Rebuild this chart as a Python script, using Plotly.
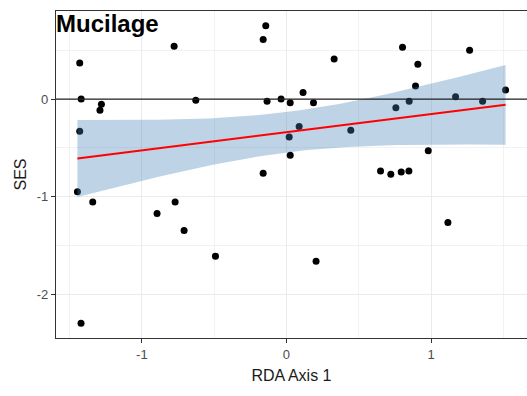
import numpy as np
import plotly.graph_objects as go

# RDA axis 1 scores and standardized effect sizes (SES) for mucilage
rda_axis1 = [
    -1.430, -1.420, -1.280, -1.290, -1.430, -0.777, -0.627, -0.161, -0.143, -0.134,
    -0.037, -0.161, 0.026, 0.115, 0.187, 0.330, 0.019, 0.026, 0.088, 0.445,
    0.757, 0.849, 0.893, 0.803, 0.909, 0.981, 1.170, 1.267, 1.357, 1.516,
    0.651, 0.722, 0.794, 0.847, -1.446, -1.340, -0.895, -0.770, -0.708, -0.491,
    -1.421, 0.205, 1.117,
]
ses = [
    0.370, 0.000, -0.054, -0.115, -0.330, 0.540, -0.013, 0.610, 0.750, -0.023,
    0.000, -0.760, -0.037, 0.068, -0.037, 0.410, -0.390, -0.575, -0.280, -0.320,
    -0.090, -0.023, 0.133, 0.530, 0.357, -0.530, 0.024, 0.500, -0.023, 0.092,
    -0.738, -0.770, -0.748, -0.738, -0.950, -1.054, -1.173, -1.054, -1.347, -1.610,
    -2.296, -1.663, -1.265,
]

x_ticks = [-1, 0, 1]
y_ticks = [-2, -1, 0]

# Linear model fit with 95% confidence band
x = np.array(rda_axis1)
y = np.array(ses)
n = len(x)
slope, intercept = np.polyfit(x, y, 1)
resid = y - (intercept + slope * x)
s = np.sqrt(np.sum(resid ** 2) / (n - 2))
sxx = np.sum((x - x.mean()) ** 2)
t_crit = 2.0195  # t quantile, 0.975, df = 41
xg = np.linspace(x.min(), x.max(), 80)
yg = intercept + slope * xg
half = t_crit * s * np.sqrt(1.0 / n + (xg - x.mean()) ** 2 / sxx)

fig = go.Figure()

fig.add_trace(go.Scatter(
    x=rda_axis1, y=ses, mode="markers",
    marker=dict(color="black", size=7),
    showlegend=False, hoverinfo="x+y",
))
fig.add_trace(go.Scatter(
    x=xg, y=yg - half, mode="lines", line=dict(width=0),
    showlegend=False, hoverinfo="skip",
))
fig.add_trace(go.Scatter(
    x=xg, y=yg + half, mode="lines", line=dict(width=0),
    fill="tonexty", fillcolor="rgba(70,130,180,0.35)",
    showlegend=False, hoverinfo="skip",
))
fig.add_trace(go.Scatter(
    x=xg, y=yg, mode="lines", line=dict(color="red", width=2),
    showlegend=False, hoverinfo="skip",
))

fig.add_hline(y=0, line=dict(color="#222222", width=1.3))

x_pad = 0.05 * (x.max() - x.min())
y_pad = 0.05 * (y.max() - y.min())

axis_common = dict(
    showgrid=True, gridcolor="#ebebeb", gridwidth=1,
    zeroline=False,
    showline=True, linecolor="#333333", linewidth=1.2, mirror=True,
    ticks="outside", ticklen=4, tickcolor="#333333", tickwidth=1,
    tickfont=dict(family="Arial, Liberation Sans, sans-serif", size=13, color="#4d4d4d"),
    minor=dict(dtick=0.5, tick0=0.5, showgrid=True, gridcolor="#f2f2f2", gridwidth=1, ticks=""),
)

fig.update_layout(
    width=527, height=396,
    margin=dict(l=56, r=0, t=11, b=58),
    paper_bgcolor="white", plot_bgcolor="white",
    font=dict(family="Arial, Liberation Sans, sans-serif", color="#1a1a1a"),
    xaxis=dict(
        range=[x.min() - x_pad, x.max() + x_pad],
        tickvals=x_ticks, ticktext=[str(v) for v in x_ticks],
        title=dict(text="RDA Axis 1", font=dict(size=16, color="#1a1a1a"), standoff=9),
        **axis_common,
    ),
    yaxis=dict(
        range=[y.min() - y_pad, y.max() + y_pad],
        tickvals=y_ticks, ticktext=[str(v) for v in y_ticks],
        title=dict(text="SES", font=dict(size=16, color="#1a1a1a"), standoff=6),
        **axis_common,
    ),
    annotations=[dict(
        text="<b>Mucilage</b>", xref="paper", yref="paper",
        x=0, y=1, xanchor="left", yanchor="top", yshift=3, xshift=-2,
        showarrow=False,
        font=dict(family="Arial, Liberation Sans, sans-serif", size=24, color="black"),
    )],
)

fig.write_html("out.html")
